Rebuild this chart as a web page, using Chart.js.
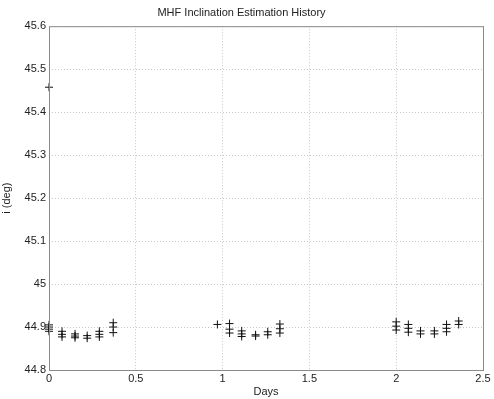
<!DOCTYPE html>
<html>
<head>
<meta charset="utf-8">
<script src="https://cdn.jsdelivr.net/npm/chart.js@4/dist/chart.umd.min.js"></script>
<style>
  html, body { margin: 0; padding: 0; background: #fff; }
  #wrap { width: 494px; height: 399px; }
</style>
</head>
<body>
<div id="wrap"><canvas id="incChart"></canvas></div>
<script>
// estimation epochs (days) and inclination estimates (deg)
const days = [
  0, 0, 0, 0, 0,
  0.075, 0.075, 0.075,
  0.15, 0.15, 0.15,
  0.22, 0.22,
  0.29, 0.29, 0.29,
  0.37, 0.37, 0.37,
  0.97,
  1.04, 1.04, 1.04,
  1.11, 1.11, 1.11,
  1.19, 1.19,
  1.26, 1.26,
  1.33, 1.33, 1.33,
  2.0, 2.0, 2.0,
  2.07, 2.07, 2.07,
  2.14, 2.14,
  2.22, 2.22,
  2.29, 2.29, 2.29,
  2.36, 2.36
];
const incl = [
  45.458, 44.905, 44.9, 44.895, 44.89,
  44.89, 44.883, 44.877,
  44.884, 44.879, 44.875,
  44.88, 44.874,
  44.89, 44.883, 44.877,
  44.91, 44.9, 44.887,
  44.906,
  44.908, 44.895, 44.886,
  44.891, 44.884, 44.878,
  44.882, 44.879,
  44.889, 44.882,
  44.907, 44.896, 44.886,
  44.912, 44.902, 44.893,
  44.906, 44.897, 44.888,
  44.891, 44.884,
  44.891, 44.884,
  44.906, 44.897, 44.889,
  44.914, 44.906
];
const xTicks = [0, 0.5, 1, 1.5, 2, 2.5];
const yTicks = [44.8, 44.9, 45, 45.1, 45.2, 45.3, 45.4, 45.5, 45.6];

const pts = days.map((d, i) => ({ x: d, y: incl[i] }));

// matlab style box round the axes
const boxPlugin = {
  id: 'box',
  afterDraw(chart) {
    const { ctx, chartArea: a } = chart;
    ctx.save();
    ctx.strokeStyle = '#8a8a8a';
    ctx.lineWidth = 1;
    ctx.strokeRect(a.left + 0.5, a.top + 0.5, a.right - a.left, a.bottom - a.top);
    ctx.restore();
  }
};

const fontMain = { family: 'Liberation Sans, Arial', size: 11, weight: 'normal' };

const ctx = document.getElementById('incChart').getContext('2d');
new Chart(ctx, {
  type: 'scatter',
  data: {
    datasets: [{
      label: 'i',
      data: pts,
      pointStyle: 'cross',
      pointRadius: 4,
      pointBorderWidth: 1,
      borderColor: '#111',
      backgroundColor: '#111',
      clip: false
    }]
  },
  options: {
    responsive: true,
    maintainAspectRatio: false,
    animation: false,
    layout: { padding: { left: 0, right: 11, top: 0, bottom: 0 } },
    plugins: {
      legend: { display: false },
      tooltip: { enabled: false },
      title: {
        display: true,
        text: 'MHF Inclination Estimation History',
        color: '#222',
        font: fontMain,
        padding: { top: 6, bottom: 7 }
      }
    },
    scales: {
      x: {
        type: 'linear',
        min: 0,
        max: 2.5,
        afterBuildTicks: s => { s.ticks = xTicks.map(v => ({ value: v })); },
        afterFit: s => { s.height = 29; },
        ticks: {
          color: '#222',
          font: fontMain,
          padding: 2,
          maxRotation: 0,
          callback: v => String(v)
        },
        grid: { color: '#c8c8c8', tickLength: 0, drawTicks: false },
        border: { display: false, dash: [1, 2] },
        title: {
          display: true,
          text: 'Days',
          color: '#222',
          font: fontMain,
          padding: { top: 0, bottom: 0 }
        }
      },
      y: {
        min: 44.8,
        max: 45.6,
        afterBuildTicks: s => { s.ticks = yTicks.map(v => ({ value: v })); },
        afterFit: s => { s.width = 49; },
        ticks: {
          color: '#222',
          font: fontMain,
          padding: 3,
          callback: v => String(Math.round(v * 10) / 10)
        },
        grid: { color: '#c8c8c8', tickLength: 0, drawTicks: false },
        border: { display: false, dash: [1, 2] },
        title: {
          display: true,
          text: 'i (deg)',
          color: '#222',
          font: fontMain,
          padding: { top: 0, bottom: 0 }
        }
      }
    }
  },
  plugins: [boxPlugin]
});
</script>
</body>
</html>
